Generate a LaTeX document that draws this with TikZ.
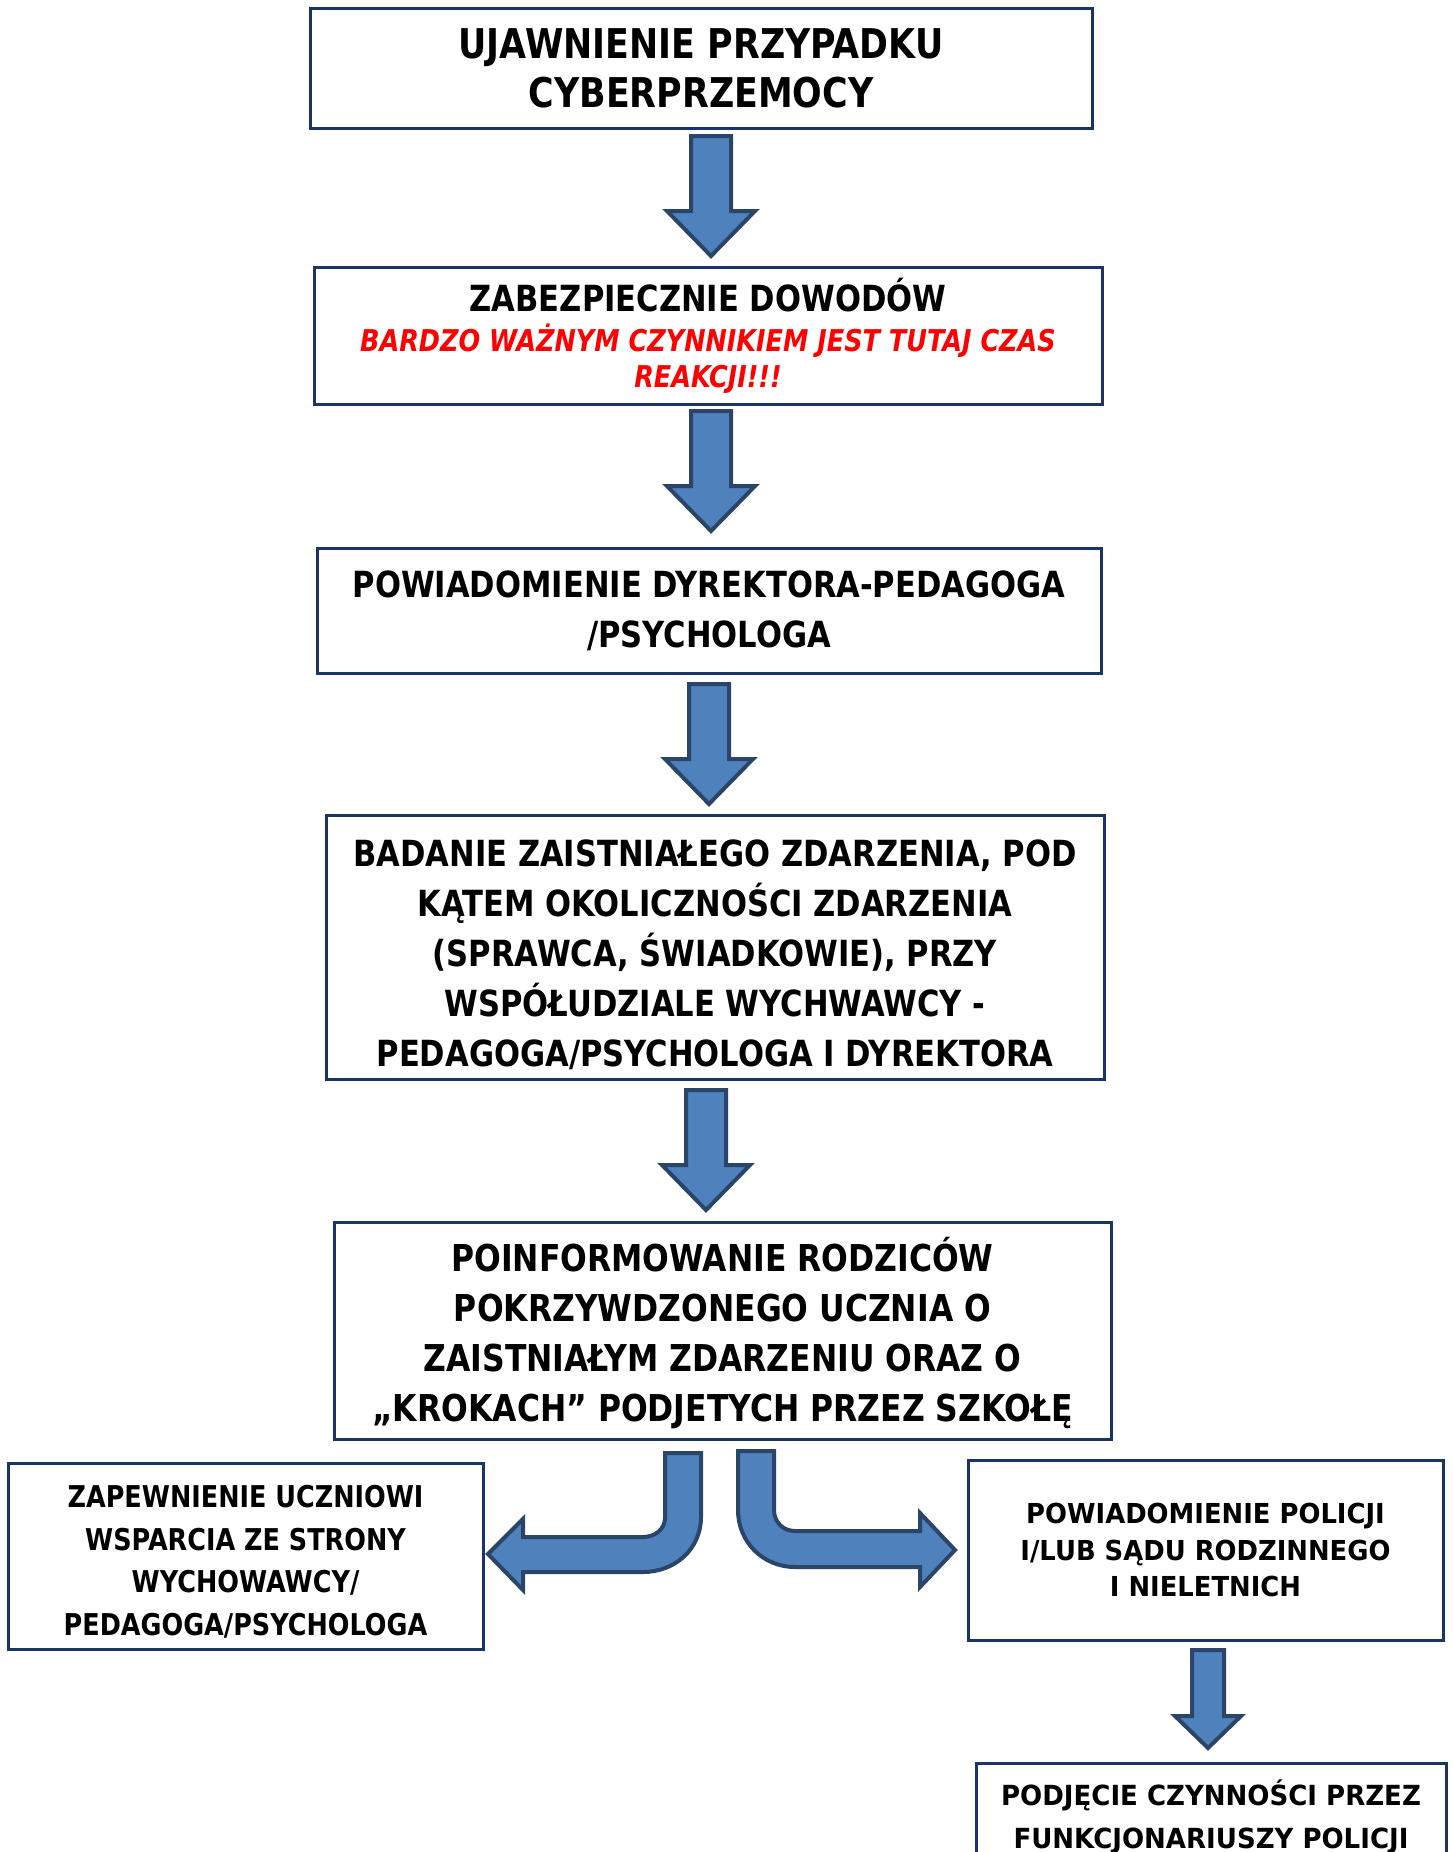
\documentclass[tikz,border=0pt]{standalone}
\usepackage{fontspec}
\setmainfont{DejaVu Sans}[FakeStretch=0.85]
\newfontfamily\wideface{DejaVu Sans}[FakeStretch=0.94]
\usepackage{xcolor}
\usepackage{tikz}
\usetikzlibrary{calc}
\definecolor{boxline}{HTML}{1B3468}
\definecolor{arrowfill}{HTML}{4F81BD}
\definecolor{arrowline}{HTML}{2B4568}

\tikzset{
	stepbox/.style={draw=boxline, line width=3, fill=white, align=center, inner sep=0, text=black},
	blockarrow/.style={draw=arrowline, fill=arrowfill, line width=4, line join=miter}
}

\begin{document}
\begin{tikzpicture}[x=1pt, y=-1pt]

		\useasboundingbox (0,0) rectangle (1452,1852);
		\clip (0,0) rectangle (1452,1852);

		% main column %
		\node[stepbox, minimum width=782, minimum height=119, font=\fontsize{41}{49}\selectfont\bfseries] (ujawnienie) at (701,68.5) {UJAWNIENIE PRZYPADKU\\CYBERPRZEMOCY};
		\node[stepbox, minimum width=788, minimum height=137, font=\fontsize{30}{36}\selectfont\bfseries] (dowody) at (708,335.5) {\fontsize{36}{36}\selectfont ZABEZPIECZNIE DOWODÓW\\[4pt]
			\itshape\color{red} BARDZO WAŻNYM CZYNNIKIEM JEST TUTAJ CZAS\\
			\itshape\color{red} REAKCJI!!!};
		\node[stepbox, minimum width=784, minimum height=125, font=\fontsize{36}{50}\selectfont\bfseries] (powiadomienie) at (709,610.5) {POWIADOMIENIE DYREKTORA-PEDAGOGA\\/PSYCHOLOGA};
		\node[stepbox, minimum width=778, minimum height=264, font=\fontsize{36}{50}\selectfont\bfseries] (badanie) at (715,947) {\rule{0pt}{42pt}BADANIE ZAISTNIAŁEGO ZDARZENIA, POD\\KĄTEM OKOLICZNOŚCI ZDARZENIA\\(SPRAWCA, ŚWIADKOWIE), PRZY\\WSPÓŁUDZIALE WYCHWAWCY -\\PEDAGOGA/PSYCHOLOGA I DYREKTORA};
		\node[stepbox, minimum width=777, minimum height=217, font=\fontsize{37}{50}\selectfont\bfseries] (rodzice) at (722.5,1330.5) {\rule{0pt}{40pt}POINFORMOWANIE RODZICÓW\\POKRZYWDZONEGO UCZNIA O\\ZAISTNIAŁYM ZDARZENIU ORAZ O\\„KROKACH” PODJETYCH PRZEZ SZKOŁĘ};

		% side boxes %
		\node[stepbox, minimum width=475, minimum height=186, font=\fontsize{30}{42.5}\selectfont\bfseries] (wsparcie) at (245.5,1556) {\rule{0pt}{34pt}ZAPEWNIENIE UCZNIOWI\\WSPARCIA ZE STRONY\\WYCHOWAWCY/\\PEDAGOGA/PSYCHOLOGA};
		\node[stepbox, minimum width=475, minimum height=180, font=\wideface\fontsize{27.5}{36.7}\selectfont\bfseries] (policja) at (1205.5,1550) {POWIADOMIENIE POLICJI\\I/LUB SĄDU RODZINNEGO\\I NIELETNICH};
		\node[stepbox, anchor=north, minimum width=470, inner ysep=16, font=\wideface\fontsize{27.7}{43}\selectfont\bfseries] (czynnosci) at (1211,1762) {PODJĘCIE CZYNNOŚCI PRZEZ\\FUNKCJONARIUSZY POLICJI\\ };

		% straight arrows %
		\foreach \n/\x/\y in {1/711/136, 2/711/411, 3/709/684, 4/706/1090} {
			\coordinate (a\n) at (\x,\y);
			\draw[blockarrow] (a\n) ++(-20,0) -- ++(40,0) -- ++(0,75) -- ++(24,0) -- ++(-44,45) -- ++(-44,-45) -- ++(24,0) -- cycle;
		}
		\coordinate (a5) at (1208,1650);
		\draw[blockarrow] (a5) ++(-16,0) -- ++(32,0) -- ++(0,66) -- ++(17,0) -- ++(-33,32) -- ++(-33,-32) -- ++(17,0) -- cycle;

		% bent arrows %
		\draw[blockarrow] (665,1453) -- (701,1453) -- (701,1517)
			.. controls (701,1549) and (675,1572) .. (643,1572) -- (523,1572) -- (523,1590) -- (488,1554)
			-- (523,1519) -- (523,1537) -- (643,1537)
			.. controls (655,1537) and (665,1529) .. (665,1518) -- cycle;
		\draw[blockarrow] (738,1451) -- (774,1451) -- (774,1510)
			.. controls (774,1522) and (783,1531) .. (795,1531) -- (920,1531) -- (920,1513) -- (955,1550)
			-- (920,1587) -- (920,1567) -- (795,1567)
			.. controls (763,1567) and (738,1542) .. (738,1510) -- cycle;

		\end{tikzpicture}
\end{document}
